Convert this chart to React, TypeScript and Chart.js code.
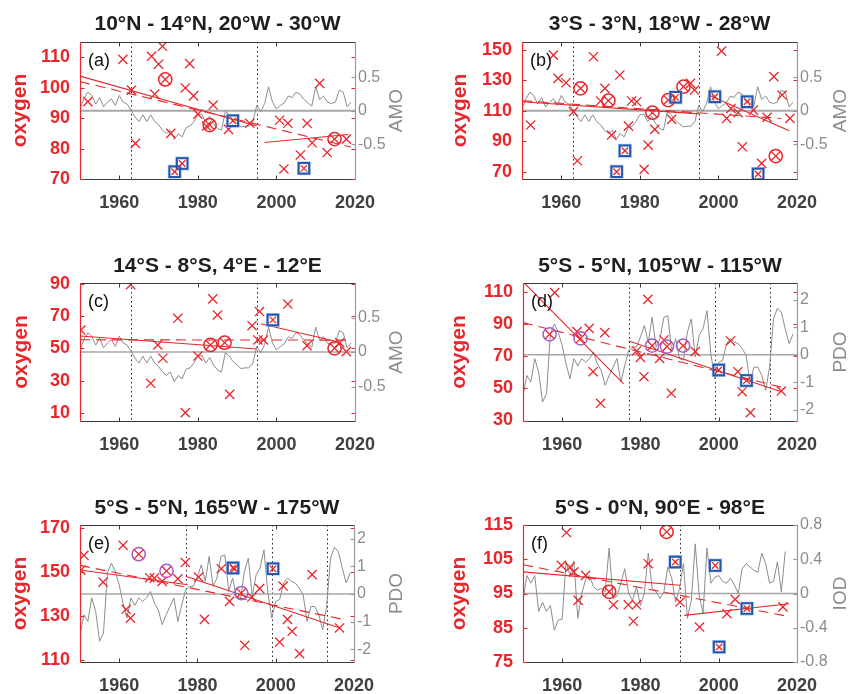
import React, { useEffect, useRef } from 'react';
import { Chart, registerables } from 'chart.js';

Chart.register(...registerables);

const FONT = '"Liberation Sans", Arial, Helvetica, sans-serif';
const RED = '#e8262b';
const GRAY = '#8c8c8c';
const ZERO_GRAY = '#a8a8a8';
const BLUE = '#2457ad';
const PURPLE = '#a45ec6';

// ---------- climate index series ----------
const AMO_YEARS = [1950,1951,1952,1953,1954,1955,1956,1957,1958,1959,1960,1961,1962,1963,1964,1965,1966,1967,1968,1969,1970,1971,1972,1973,1974,1975,1976,1977,1978,1979,1980,1981,1982,1983,1984,1985,1986,1987,1988,1989,1990,1991,1992,1993,1994,1995,1996,1997,1998,1999,2000,2001,2002,2003,2004,2005,2006,2007,2008,2009,2010,2011,2012,2013,2014,2015,2016,2017,2018,2019];
const AMO = [0.03,0.18,0.28,0.23,0.10,0.20,0.06,0.13,0.18,0.08,
  0.23,0.13,0.10,0.01,-0.09,-0.16,-0.06,-0.16,-0.06,-0.16,
  -0.21,-0.29,-0.34,-0.29,-0.43,-0.34,-0.39,-0.25,-0.23,-0.16,
  -0.06,-0.05,-0.16,-0.08,-0.19,-0.26,-0.29,-0.01,-0.06,-0.14,
  -0.19,-0.24,-0.23,-0.23,-0.16,0.08,-0.01,0.11,0.36,0.13,
  0.03,0.08,0.12,0.22,0.20,0.28,0.25,0.17,0.12,0.07,
  0.36,0.17,0.22,0.13,0.11,0.13,0.31,0.28,0.06,0.13];

const PDO_YEARS = [1950,1951,1952,1953,1954,1955,1956,1957,1958,1959,1960,1961,1962,1963,1964,1965,1966,1967,1968,1969,1970,1971,1972,1973,1974,1975,1976,1977,1978,1979,1980,1981,1982,1983,1984,1985,1986,1987,1988,1989,1990,1991,1992,1993,1994,1995,1996,1997,1998,1999,2000,2001,2002,2003,2004,2005,2006,2007,2008,2009,2010,2011,2012,2013,2014,2015,2016,2017,2018,2019];
const PDO = [-1.47,-0.75,-0.99,-0.14,-0.63,-1.71,-1.41,0.76,1.12,0.82,
  0.34,-0.33,-0.87,-0.14,-0.41,-0.14,-0.27,-0.14,0.10,-0.33,
  -0.57,-1.11,-0.75,-0.45,-0.14,-0.99,-0.39,0.16,0.28,0.28,
  0.64,1.06,0.46,1.36,0.28,0.58,1.36,1.42,0.10,0.58,
  -0.14,-0.20,0.82,1.30,-0.08,0.70,0.94,1.60,0.04,-0.87,
  -0.27,-0.20,0.40,0.58,0.46,0.40,0.22,-0.02,-0.99,-0.45,
  -0.45,-0.75,-1.29,-0.45,1.30,1.69,1.54,0.94,0.40,0.76];

const IOD_YEARS = [1950,1951,1952,1953,1954,1955,1956,1957,1958,1959,1960,1961,1962,1963,1964,1965,1966,1967,1968,1969,1970,1971,1972,1973,1974,1975,1976,1977,1978,1979,1980,1981,1982,1983,1984,1985,1986,1987,1988,1989,1990,1991,1992,1993,1994,1995,1996,1997,1998,1999,2000,2001,2002,2003,2004,2005,2006,2007,2008,2009,2010,2011,2012,2013,2014,2015,2016,2017];
const IOD = [-0.08,0.21,0.12,0.21,-0.21,-0.10,-0.21,-0.14,-0.43,-0.31,
  -0.30,0.37,0.21,0.38,-0.29,0.0,0.16,0.21,0.08,0.04,
  0.06,0.02,0.53,-0.06,-0.03,0.12,0.29,0.0,-0.08,0.08,
  -0.14,0.0,0.47,0.06,0.02,-0.06,0.02,0.31,0.18,-0.10,
  0.06,0.35,-0.29,-0.08,0.58,-0.02,-0.23,0.53,0.12,0.19,
  0.21,0.14,0.12,0.18,0.10,0.0,0.29,0.35,0.31,0.27,
  0.25,0.47,0.35,0.12,0.14,0.37,0.02,0.49];

const ZERO_YEARS = [1950, 2020];
const ZERO_VALUES = [0, 0];
const X_TICKS = [1960, 1980, 2000, 2020];

// ---------- panel (a) ----------
const A_X_YEARS = [1952,1960.9,1963.1,1964.1,1968.2,1970,1971,1969,1977.9,1976.8,1978.9,1983.9,1980,1982.2,1973.1,1987.8,1993.2,2000.8,2002.9,2007.8,2011,2009.1,2006.1,2012.9,2001.9,2017.8];
const A_X_OXY = [95.4,109.3,99.2,81.7,110.3,107.7,113.6,97.9,107.9,99.9,97.3,94.3,91.3,87.4,85.0,86.3,88.3,89.3,88.3,88.3,101.4,81.9,77.9,78.7,73.3,83.1];
const A_C_YEARS = [1971.7,1983,2014.8];
const A_C_OXY = [102.7,87.7,83.1];
const A_S_YEARS = [1974.1,1976,1988.9,2007];
const A_S_OXY = [72.4,75.1,89.1,73.5];
const A_SOLID1_YEARS = [1950,1995];
const A_SOLID1_OXY = [103.8,87.4];
const A_SOLID2_YEARS = [1997,2018.3];
const A_SOLID2_OXY = [82.0,84.6];
const A_DASH_YEARS = [1950,2019];
const A_DASH_OXY = [102.0,80.5];
const A_VLINES = [1963,1995];
const A_LEFT_TICKS = [70,80,90,100,110];
const AMO_TICKS = [-0.5,0,0.5];

// ---------- panel (b) ----------
const B_X_YEARS = [1952.2,1958,1959.2,1961.2,1963.1,1964.1,1968.2,1970,1971.1,1974.9,1972.8,1977.1,1977.9,1979.2,1982.1,1981.1,1983.8,1988.1,1992.9,1993.9,2000.8,2002.1,2003.2,2005,2006.1,2008.9,2011,2012.4,2014.1,2016.2,2018.2];
const B_X_OXY = [100.7,146.7,131.4,128.5,109.5,77.2,145.6,116.5,124.8,133.6,94.1,100,116.5,116,87.5,71.5,97.8,104.4,128.1,123.7,149.3,105.1,111.6,108.8,86.4,110.5,75.5,105.7,132.5,120.4,105.1];
const B_C_YEARS = [1964.9,1972,1983.2,1987.2,1991.1,2014.6];
const B_C_OXY = [124.8,116.7,108.8,117.1,125.9,80.3];
const B_S_YEARS = [1976.2,1974.1,1989.1,1999.1,2007.3,2010.1];
const B_S_OXY = [83.8,70,118.9,119.3,116,68.5];
const B_SOLID1_YEARS = [1950,1995];
const B_SOLID1_OXY = [116,108];
const B_SOLID2_YEARS = [1997.5,2018];
const B_SOLID2_OXY = [120.4,97];
const B_DASH_YEARS = [1950,2016];
const B_DASH_OXY = [116.7,105.0];
const B_VLINES = [1963,1995];
const B_LEFT_TICKS = [70,90,110,130,150];

// ---------- panel (c) ----------
const C_X_YEARS = [1950.2,1962.9,1969.8,1971.1,1968,1974.9,1976.8,1980,1983.8,1985,1988.1,1993.8,1995.7,1995.3,1996.7,2002.9,2007.8,2016.1,2017.8];
const C_X_OXY = [61.5,89.8,52.2,43.9,28.3,68.8,10,45.3,80.9,70.9,21.4,64.2,73,55.3,55.3,77.7,51.8,53.6,48];
const C_C_YEARS = [1983.2,1986.8,2014.8];
const C_C_OXY = [52.2,53.6,50.1];
const C_S_YEARS = [1999.1];
const C_S_OXY = [67.8];
const C_SOLID1_YEARS = [1950,1995];
const C_SOLID1_OXY = [57.8,49.7];
const C_SOLID2_YEARS = [1996,2015.3];
const C_SOLID2_OXY = [65.4,54.3];
const C_DASH_YEARS = [1950,2019];
const C_DASH_OXY = [55.4,55.2];
const C_VLINES = [1963,1995];
const C_LEFT_TICKS = [10,30,50,70,90];

// ---------- panel (d) ----------
const D_X_YEARS = [1958.1,1963.8,1966.9,1970.9,1967.9,1969.8,1981.9,1979,1980,1980.9,1984.9,1986,1987.9,1994,2003,2004.9,2006,2008.1,2016];
const D_X_OXY = [109.4,85.2,87.2,84.6,60.3,40.7,105.2,73.2,69.2,57.2,68.6,80,46.9,72.8,79.4,60.3,47.9,34.9,48.3];
const D_C_YEARS = [1956.8,1964.7,1983,1986.8,1990.9];
const D_C_OXY = [83.5,81,76.5,75.9,76.5];
const D_S_YEARS = [2000,2007.1];
const D_S_OXY = [61.4,54.8];
const D_SOLID1_YEARS = [1950,1975.7];
const D_SOLID1_OXY = [116.2,52.7];
const D_SOLID2_YEARS = [1977,2016];
const D_SOLID2_OXY = [79.4,47.9];
const D_DASH_YEARS = [1950,2016];
const D_DASH_OXY = [90.8,50.7];
const D_VLINES = [1977,1999,2013];
const D_LEFT_TICKS = [30,50,70,90,110];
const PDO_TICKS = [-2,-1,0,1,2];

// ---------- panel (e) ----------
const E_X_YEARS = [1950.2,1951,1955.9,1961,1961.8,1962.9,1967.8,1969,1971,1975,1976.9,1980.3,1981.8,1986.1,1988.2,1989.5,1992.1,1993.9,1995.9,2001,2001.9,2003,2004.2,2006.1,2009.3,2016.3];
const E_X_OXY = [150.9,157.7,145.5,162.3,133.1,129.1,147.5,147.3,145.8,147.0,154.4,147.8,128.5,151.6,136.7,151.6,116.7,138.7,142.5,118.2,143.7,128.5,123.1,112.9,148.9,124.6];
const E_C_YEARS = [1965,1972.1,1991.2];
const E_C_OXY = [158.2,150.6,140.5];
const E_S_YEARS = [1989.1,1999.3];
const E_S_OXY = [151.9,151.6];
const E_SOLID1_YEARS = [1950,1977.5];
const E_SOLID1_OXY = [151,144.3];
const E_SOLID2_YEARS = [1977,2016];
const E_SOLID2_OXY = [148.2,124.8];
const E_DASH_YEARS = [1950,2017];
const E_DASH_OXY = [153.1,128.6];
const E_VLINES = [1977,1999,2013];
const E_LEFT_TICKS = [110,130,150,170];

// ---------- panel (f) ----------
const F_X_YEARS = [1961.1,1959.8,1962,1963,1964.1,1966,1973.1,1976.9,1979,1978.2,1982,1990.1,1995.1,2002.1,2004.2,2016.4];
const F_X_OXY = [112.8,103.2,102.7,101.3,93,100.3,91.7,91.7,91.7,86.9,103.7,92.5,85.2,89.1,93.3,91.1];
const F_C_YEARS = [1986.7,1972];
const F_C_OXY = [113,95.5];
const F_S_YEARS = [1988.9,1999.1,2007.2,2000.1];
const F_S_OXY = [104.2,103.2,90.6,79.4];
const F_SOLID1_YEARS = [1950,1990.1];
const F_SOLID1_OXY = [101.3,97.4];
const F_SOLID2_YEARS = [1991.2,2018];
const F_SOLID2_OXY = [88.6,92];
const F_DASH_YEARS = [1950,2018.2];
const F_DASH_OXY = [103.4,88.2];
const F_VLINES = [1990];
const F_LEFT_TICKS = [75,85,95,105,115];
const IOD_TICKS = [-0.8,-0.4,0,0.4,0.8];

type Pt = { x: number; y: number };
const zip = (xs: number[], ys: number[]): Pt[] => xs.map((x, i) => ({ x, y: ys[i] }));

interface Panel {
  key: string;
  title: string;
  letter: string;
  idxLabel: string;
  idxYears: number[];
  idxValues: number[];
  idxTicks: number[];
  idxMin: number;
  idxMax: number;
  oxMin: number;
  oxMax: number;
  oxTicks: number[];
  xYears: number[]; xOxy: number[];
  cYears: number[]; cOxy: number[]; circleColor: string;
  sYears: number[]; sOxy: number[];
  solid1: [number[], number[]];
  solid2: [number[], number[]];
  dash: [number[], number[]];
  vlines: number[];
  zeroWidth: number;
  geo: { cx: number; cy: number; cw: number; ch: number; L: number; R: number; T: number; B: number; titleY: number; ylabX: number; y2labX: number };
}

const PANELS: Panel[] = [
  {
    key: 'a', title: '10°N - 14°N, 20°W - 30°W', letter: '(a)', idxLabel: 'AMO',
    idxYears: AMO_YEARS, idxValues: AMO, idxTicks: AMO_TICKS, idxMin: -1.02, idxMax: 1.03,
    oxMin: 70, oxMax: 115, oxTicks: A_LEFT_TICKS,
    xYears: A_X_YEARS, xOxy: A_X_OXY, cYears: A_C_YEARS, cOxy: A_C_OXY, circleColor: RED,
    sYears: A_S_YEARS, sOxy: A_S_OXY,
    solid1: [A_SOLID1_YEARS, A_SOLID1_OXY], solid2: [A_SOLID2_YEARS, A_SOLID2_OXY], dash: [A_DASH_YEARS, A_DASH_OXY],
    vlines: A_VLINES, zeroWidth: 2,
    geo: { cx: 0, cy: 0, cw: 424, ch: 230, L: 80, R: 355, T: 42, B: 179, titleY: 24, ylabX: 20, y2labX: 397 },
  },
  {
    key: 'b', title: '3°S - 3°N, 18°W - 28°W', letter: '(b)', idxLabel: 'AMO',
    idxYears: AMO_YEARS, idxValues: AMO, idxTicks: AMO_TICKS, idxMin: -1.02, idxMax: 1.03,
    oxMin: 65.2, oxMax: 155.3, oxTicks: B_LEFT_TICKS,
    xYears: B_X_YEARS, xOxy: B_X_OXY, cYears: B_C_YEARS, cOxy: B_C_OXY, circleColor: RED,
    sYears: B_S_YEARS, sOxy: B_S_OXY,
    solid1: [B_SOLID1_YEARS, B_SOLID1_OXY], solid2: [B_SOLID2_YEARS, B_SOLID2_OXY], dash: [B_DASH_YEARS, B_DASH_OXY],
    vlines: B_VLINES, zeroWidth: 2,
    geo: { cx: 424, cy: 0, cw: 424, ch: 230, L: 522, R: 797, T: 42, B: 179, titleY: 24, ylabX: 460, y2labX: 841 },
  },
  {
    key: 'c', title: '14°S - 8°S, 4°E - 12°E', letter: '(c)', idxLabel: 'AMO',
    idxYears: AMO_YEARS, idxValues: AMO, idxTicks: AMO_TICKS, idxMin: -1.0, idxMax: 1.0,
    oxMin: 4.8, oxMax: 90.8, oxTicks: C_LEFT_TICKS,
    xYears: C_X_YEARS, xOxy: C_X_OXY, cYears: C_C_YEARS, cOxy: C_C_OXY, circleColor: RED,
    sYears: C_S_YEARS, sOxy: C_S_OXY,
    solid1: [C_SOLID1_YEARS, C_SOLID1_OXY], solid2: [C_SOLID2_YEARS, C_SOLID2_OXY], dash: [C_DASH_YEARS, C_DASH_OXY],
    vlines: C_VLINES, zeroWidth: 1.5,
    geo: { cx: 0, cy: 230, cw: 424, ch: 230, L: 80, R: 355, T: 283, B: 421, titleY: 266.5, ylabX: 21, y2labX: 397 },
  },
  {
    key: 'd', title: '5°S - 5°N, 105°W - 115°W', letter: '(d)', idxLabel: 'PDO',
    idxYears: PDO_YEARS, idxValues: PDO, idxTicks: PDO_TICKS, idxMin: -2.4, idxMax: 2.6,
    oxMin: 29.7, oxMax: 115.4, oxTicks: D_LEFT_TICKS,
    xYears: D_X_YEARS, xOxy: D_X_OXY, cYears: D_C_YEARS, cOxy: D_C_OXY, circleColor: PURPLE,
    sYears: D_S_YEARS, sOxy: D_S_OXY,
    solid1: [D_SOLID1_YEARS, D_SOLID1_OXY], solid2: [D_SOLID2_YEARS, D_SOLID2_OXY], dash: [D_DASH_YEARS, D_DASH_OXY],
    vlines: D_VLINES, zeroWidth: 1.5,
    geo: { cx: 424, cy: 230, cw: 424, ch: 230, L: 523, R: 797, T: 283, B: 421, titleY: 266, ylabX: 459, y2labX: 841 },
  },
  {
    key: 'e', title: '5°S - 5°N, 165°W - 175°W', letter: '(e)', idxLabel: 'PDO',
    idxYears: PDO_YEARS, idxValues: PDO, idxTicks: PDO_TICKS, idxMin: -2.46, idxMax: 2.5,
    oxMin: 109.1, oxMax: 171.5, oxTicks: E_LEFT_TICKS,
    xYears: E_X_YEARS, xOxy: E_X_OXY, cYears: E_C_YEARS, cOxy: E_C_OXY, circleColor: PURPLE,
    sYears: E_S_YEARS, sOxy: E_S_OXY,
    solid1: [E_SOLID1_YEARS, E_SOLID1_OXY], solid2: [E_SOLID2_YEARS, E_SOLID2_OXY], dash: [E_DASH_YEARS, E_DASH_OXY],
    vlines: E_VLINES, zeroWidth: 1.5,
    geo: { cx: 0, cy: 460, cw: 424, ch: 234, L: 80, R: 354, T: 525, B: 662, titleY: 508, ylabX: 20, y2labX: 397 },
  },
  {
    key: 'f', title: '5°S - 0°N, 90°E - 98°E', letter: '(f)', idxLabel: 'IOD',
    idxYears: IOD_YEARS, idxValues: IOD, idxTicks: IOD_TICKS, idxMin: -0.8, idxMax: 0.8,
    oxMin: 75, oxMax: 115, oxTicks: F_LEFT_TICKS,
    xYears: F_X_YEARS, xOxy: F_X_OXY, cYears: F_C_YEARS, cOxy: F_C_OXY, circleColor: RED,
    sYears: F_S_YEARS, sOxy: F_S_OXY,
    solid1: [F_SOLID1_YEARS, F_SOLID1_OXY], solid2: [F_SOLID2_YEARS, F_SOLID2_OXY], dash: [F_DASH_YEARS, F_DASH_OXY],
    vlines: F_VLINES, zeroWidth: 1.5,
    geo: { cx: 424, cy: 460, cw: 424, ch: 234, L: 523, R: 797, T: 525, B: 662, titleY: 508, ylabX: 459, y2labX: 841 },
  },
];

function fmt(v: number): string {
  return String(Math.round(v * 100) / 100);
}

function makeDeco(p: Panel) {
  const g = p.geo;
  return {
    id: 'deco_' + p.key,
    beforeDatasetsDraw(chart: any) {
      const { ctx, chartArea: a, scales } = chart;
      ctx.save();
      ctx.strokeStyle = '#222';
      ctx.lineWidth = 1;
      ctx.setLineDash([1.5, 3]);
      p.vlines.forEach((v) => {
        const x = Math.round(scales.x.getPixelForValue(v)) + 0.5;
        ctx.beginPath();
        ctx.moveTo(x, a.top);
        ctx.lineTo(x, a.bottom);
        ctx.stroke();
      });
      ctx.restore();
    },
    afterDraw(chart: any) {
      const { ctx, chartArea: a, scales } = chart;
      const l = Math.round(a.left) + 0.5;
      const r = Math.round(a.right) + 0.5;
      const t = Math.round(a.top) + 0.5;
      const b = Math.round(a.bottom) + 0.5;
      ctx.save();
      ctx.setLineDash([]);
      ctx.lineWidth = 1;
      ctx.strokeStyle = '#3a3a3a';
      ctx.beginPath();
      ctx.moveTo(l, t); ctx.lineTo(r, t);
      ctx.moveTo(l, b); ctx.lineTo(r, b);
      ctx.stroke();
      X_TICKS.forEach((v) => {
        const x = Math.round(scales.x.getPixelForValue(v)) + 0.5;
        ctx.beginPath();
        ctx.moveTo(x, t); ctx.lineTo(x, t + 4);
        ctx.moveTo(x, b); ctx.lineTo(x, b - 4);
        ctx.stroke();
      });
      ctx.strokeStyle = RED;
      ctx.lineWidth = 1.2;
      ctx.beginPath();
      ctx.moveTo(l, t); ctx.lineTo(l, b);
      ctx.stroke();
      p.oxTicks.forEach((v) => {
        const y = Math.round(scales.y.getPixelForValue(v)) + 0.5;
        ctx.beginPath();
        ctx.moveTo(l, y); ctx.lineTo(l + 4, y);
        ctx.moveTo(r, y); ctx.lineTo(r - 4, y);
        ctx.stroke();
      });
      ctx.strokeStyle = '#9a9a9a';
      ctx.lineWidth = 1.2;
      ctx.beginPath();
      ctx.moveTo(r, t); ctx.lineTo(r, b);
      ctx.stroke();
      p.idxTicks.forEach((v) => {
        const y = Math.round(scales.y2.getPixelForValue(v)) + 0.5;
        ctx.beginPath();
        ctx.moveTo(r, y); ctx.lineTo(r - 4, y);
        ctx.stroke();
      });
      // title
      ctx.fillStyle = '#1e1e1e';
      ctx.font = `bold 21px ${FONT}`;
      ctx.textAlign = 'center';
      ctx.textBaseline = 'middle';
      ctx.fillText(p.title, (a.left + a.right) / 2, g.titleY - g.cy);
      // panel letter
      ctx.font = `18px ${FONT}`;
      ctx.textAlign = 'left';
      ctx.fillStyle = '#111';
      ctx.fillText(p.letter, a.left + 8, a.top + 19);
      const midY = (a.top + a.bottom) / 2;
      ctx.save();
      ctx.translate(g.ylabX - g.cx, midY);
      ctx.rotate(-Math.PI / 2);
      ctx.font = `bold 21px ${FONT}`;
      ctx.fillStyle = RED;
      ctx.textAlign = 'center';
      ctx.textBaseline = 'middle';
      ctx.fillText('oxygen', 0, 0);
      ctx.restore();
      ctx.save();
      ctx.translate(g.y2labX - g.cx, midY);
      ctx.rotate(-Math.PI / 2);
      ctx.font = `19px ${FONT}`;
      ctx.fillStyle = GRAY;
      ctx.textAlign = 'center';
      ctx.textBaseline = 'middle';
      ctx.fillText(p.idxLabel, 0, 0);
      ctx.restore();
      ctx.restore();
    },
  };
}

function buildDatasets(p: Panel): any[] {
  const cross = (data: Pt[], r: number) => ({
    data, pointStyle: 'crossRot', pointRadius: r, pointHoverRadius: r,
    borderColor: RED, pointBorderColor: RED, backgroundColor: 'rgba(0,0,0,0)',
    pointBorderWidth: 1.3, borderWidth: 1.3, showLine: false, yAxisID: 'y',
  });
  const line = (xs: number[], ys: number[], dashed: boolean) => ({
    data: zip(xs, ys), showLine: true, pointRadius: 0, pointHoverRadius: 0,
    borderColor: RED, borderWidth: 1.1, borderDash: dashed ? [10, 6] : [], yAxisID: 'y',
  });
  return [
    cross(zip(p.sYears, p.sOxy), 4.6),
    {
      data: zip(p.sYears, p.sOxy), pointStyle: 'rect', pointRadius: 7.4, pointHoverRadius: 7.4,
      borderColor: BLUE, pointBorderColor: BLUE, backgroundColor: 'rgba(0,0,0,0)', pointBackgroundColor: 'rgba(0,0,0,0)',
      pointBorderWidth: 2, showLine: false, yAxisID: 'y',
    },
    {
      data: zip(p.sYears, p.sOxy), pointStyle: 'rect', pointRadius: 8.8, pointHoverRadius: 8.8,
      borderColor: 'rgba(130,175,230,0.75)', pointBorderColor: 'rgba(130,175,230,0.75)',
      backgroundColor: 'rgba(0,0,0,0)', pointBackgroundColor: 'rgba(0,0,0,0)',
      pointBorderWidth: 1.4, showLine: false, yAxisID: 'y',
    },
    cross(zip(p.cYears, p.cOxy), 6.3),
    {
      data: zip(p.cYears, p.cOxy), pointStyle: 'circle', pointRadius: 6.6, pointHoverRadius: 6.6,
      borderColor: p.circleColor, pointBorderColor: p.circleColor,
      backgroundColor: 'rgba(0,0,0,0)', pointBackgroundColor: 'rgba(0,0,0,0)',
      pointBorderWidth: 1.5, showLine: false, yAxisID: 'y',
    },
    cross(zip(p.xYears, p.xOxy), 6.5),
    line(p.solid1[0], p.solid1[1], false),
    line(p.solid2[0], p.solid2[1], false),
    line(p.dash[0], p.dash[1], true),
    {
      data: zip(p.idxYears, p.idxValues), showLine: true, pointRadius: 0, pointHoverRadius: 0,
      borderColor: GRAY, borderWidth: 1, yAxisID: 'y2',
    },
    {
      data: zip(ZERO_YEARS, ZERO_VALUES), showLine: true, pointRadius: 0, pointHoverRadius: 0,
      borderColor: ZERO_GRAY, borderWidth: p.zeroWidth, yAxisID: 'y2',
    },
  ];
}

function PanelChart({ p }: { p: Panel }) {
  const ref = useRef<HTMLCanvasElement | null>(null);
  useEffect(() => {
    const canvas = ref.current;
    if (!canvas) return;
    const g = p.geo;
    const chart = new Chart(canvas, {
      type: 'scatter',
      data: { datasets: buildDatasets(p) },
      options: {
        animation: false,
        responsive: false,
        maintainAspectRatio: false,
        devicePixelRatio: 1,
        events: [],
        layout: { padding: { top: g.T - g.cy, left: 0, right: 0, bottom: 0 } },
        plugins: { legend: { display: false }, tooltip: { enabled: false }, title: { display: false } },
        scales: {
          x: {
            type: 'linear', position: 'bottom', min: 1950, max: 2020,
            afterBuildTicks: (s: any) => { s.ticks = X_TICKS.map((v) => ({ value: v })); },
            afterFit: (s: any) => { s.height = g.cy + g.ch - g.B; },
            grid: { display: false, drawTicks: false },
            border: { display: false },
            ticks: {
              font: { family: FONT, size: 18, weight: 'bold' }, color: '#404040', padding: 13,
              maxRotation: 0, autoSkip: false, callback: (v: any) => String(v),
            },
          },
          y: {
            type: 'linear', position: 'left', min: p.oxMin, max: p.oxMax,
            afterBuildTicks: (s: any) => { s.ticks = p.oxTicks.map((v) => ({ value: v })); },
            afterFit: (s: any) => { s.width = g.L - g.cx; },
            grid: { display: false, drawTicks: false },
            border: { display: false },
            ticks: {
              font: { family: FONT, size: 18, weight: 'bold' }, color: RED, padding: 10,
              autoSkip: false, callback: (v: any) => fmt(Number(v)),
            },
          },
          y2: {
            type: 'linear', position: 'right', min: p.idxMin, max: p.idxMax,
            afterBuildTicks: (s: any) => { s.ticks = p.idxTicks.map((v) => ({ value: v })); },
            afterFit: (s: any) => { s.width = g.cx + g.cw - g.R; },
            grid: { display: false, drawTicks: false },
            border: { display: false },
            ticks: {
              font: { family: FONT, size: 16 }, color: GRAY, padding: 3,
              autoSkip: false, callback: (v: any) => fmt(Number(v)),
            },
          },
        },
      } as any,
      plugins: [makeDeco(p)],
    });
    return () => chart.destroy();
  }, [p]);
  const g = p.geo;
  return (
    <canvas
      ref={ref}
      width={g.cw}
      height={g.ch}
      style={{ position: 'absolute', left: g.cx, top: g.cy, width: g.cw, height: g.ch }}
    />
  );
}

export default function App() {
  return (
    <div style={{ position: 'absolute', left: 0, top: 0, width: 848, height: 694, background: '#fff', overflow: 'hidden' }}>
      {PANELS.map((p) => (
        <PanelChart key={p.key} p={p} />
      ))}
    </div>
  );
}
